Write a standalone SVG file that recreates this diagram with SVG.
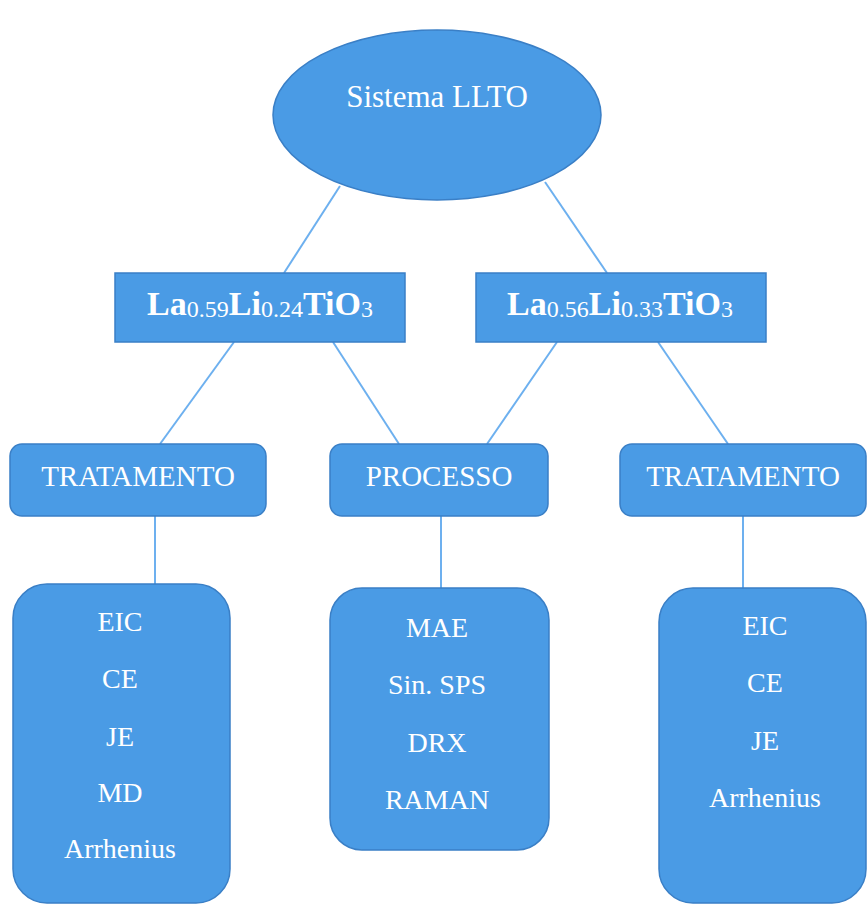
<svg xmlns="http://www.w3.org/2000/svg" width="868" height="904" viewBox="0 0 868 904">
<style>
.n{fill:#4A9BE5;stroke:#3A7FC6;stroke-width:1.5}
.c line{stroke:#6DB0EF;stroke-width:2}
text{font-family:"Liberation Serif","Times New Roman",serif;fill:#FFFFFF;text-anchor:middle}
.t{font-size:29px}
.s{font-size:28px}
.b{font-size:34px;font-weight:bold}
.sub{font-size:24px;font-weight:normal}
</style>
<rect width="868" height="904" fill="#FFFFFF"/>
<g class="c" id="connectors">
<line x1="340" y1="186" x2="284" y2="273"/>
<line x1="545" y1="182" x2="607" y2="273"/>
<line x1="234" y1="342" x2="160" y2="444"/>
<line x1="333" y1="342" x2="399" y2="444"/>
<line x1="557" y1="342" x2="487" y2="444"/>
<line x1="658" y1="342" x2="728" y2="444"/>
<line x1="155" y1="516" x2="155" y2="584"/>
<line x1="441" y1="516" x2="441" y2="588"/>
<line x1="743" y1="516" x2="743" y2="588"/>
</g>
<g id="root">
<ellipse class="n" cx="437" cy="115" rx="164" ry="85"/>
<text class="t" x="437" y="107" style="font-size:31px">Sistema LLTO</text>
</g>
<g id="llto1">
<rect class="n" x="115" y="273" width="290" height="69"/>
<text class="b" x="260" y="315">La<tspan class="sub" dy="2">0.59</tspan><tspan dy="-2">Li</tspan><tspan class="sub" dy="2">0.24</tspan><tspan dy="-2">TiO</tspan><tspan class="sub" dy="2">3</tspan></text>
</g>
<g id="llto2">
<rect class="n" x="476" y="273" width="290" height="69"/>
<text class="b" x="620" y="315">La<tspan class="sub" dy="2">0.56</tspan><tspan dy="-2">Li</tspan><tspan class="sub" dy="2">0.33</tspan><tspan dy="-2">TiO</tspan><tspan class="sub" dy="2">3</tspan></text>
</g>
<g id="tratamento1">
<rect class="n" x="10" y="444" width="256" height="72" rx="12"/>
<text class="t" x="138" y="486">TRATAMENTO</text>
</g>
<g id="processo">
<rect class="n" x="330" y="444" width="218" height="72" rx="12"/>
<text class="t" x="439" y="486">PROCESSO</text>
</g>
<g id="tratamento2">
<rect class="n" x="620" y="444" width="246" height="72" rx="12"/>
<text class="t" x="743" y="486">TRATAMENTO</text>
</g>
<g id="lista1">
<rect class="n" x="13" y="584" width="217" height="319" rx="34"/>
<text class="s" x="120" y="631">EIC</text>
<text class="s" x="120" y="688">CE</text>
<text class="s" x="120" y="746">JE</text>
<text class="s" x="120" y="802">MD</text>
<text class="s" x="120" y="858">Arrhenius</text>
</g>
<g id="lista2">
<rect class="n" x="330" y="588" width="219" height="262" rx="32"/>
<text class="s" x="437" y="637">MAE</text>
<text class="s" x="437" y="694">Sin. SPS</text>
<text class="s" x="437" y="752">DRX</text>
<text class="s" x="437" y="809">RAMAN</text>
</g>
<g id="lista3">
<rect class="n" x="659" y="588" width="207" height="315" rx="34"/>
<text class="s" x="765" y="635">EIC</text>
<text class="s" x="765" y="692">CE</text>
<text class="s" x="765" y="750">JE</text>
<text class="s" x="765" y="807">Arrhenius</text>
</g>
</svg>
